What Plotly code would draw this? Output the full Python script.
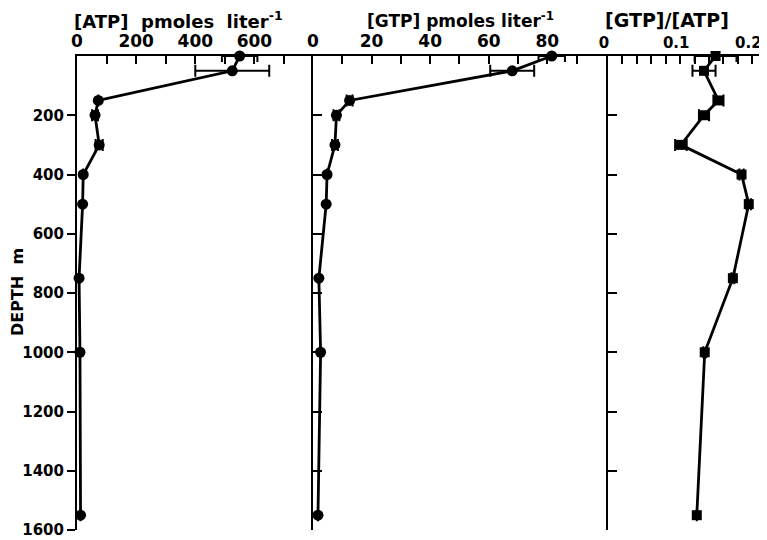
import plotly.graph_objects as go

# ---- data ----
depth_m = [0, 50, 150, 200, 300, 400, 500, 750, 1000, 1550]
atp_pmol = [550, 525, 72, 61, 75, 21, 19, 7, 10, 12]
atp_err = [60, 125, 0, 10, 12, 0, 0, 0, 0, 0]
gtp_pmol = [81.5, 68, 12.5, 8, 7.5, 4.8, 4.5, 2, 2.6, 1.7]
gtp_err = [4.5, 7.5, 1, 1, 1, 0, 0, 0, 0, 0]
ratio = [0.149, 0.133, 0.153, 0.133, 0.101, 0.185, 0.195, 0.173, 0.134, 0.123]
ratio_err = [0.029, 0.016, 0.007, 0.007, 0.008, 0.003, 0.003, 0.002, 0.002, 0.0]

atp_ticks = [0, 100, 200, 300, 400, 500, 600, 700]
atp_labels = ["0", "", "200", "", "400", "", "600", ""]
gtp_ticks = [0, 10, 20, 30, 40, 50, 60, 70, 80, 90]
gtp_labels = ["0", "", "20", "", "40", "", "60", "", "80", ""]
ratio_ticks = [0, 0.02, 0.04, 0.06, 0.08, 0.1, 0.12, 0.14, 0.16, 0.18, 0.2]
ratio_labels = ["0", "", "", "", "", "0.1", "", "", "", "", "0.2"]
depth_ticks = [200, 400, 600, 800, 1000, 1200, 1400, 1600]

FONT = "DejaVu Sans"
BLACK = "black"

fig = go.Figure()

def add_profile(xvals, err, xa, ya, symbol, size):
    fig.add_trace(go.Scatter(
        x=xvals, y=depth_m, xaxis=xa, yaxis=ya,
        mode="lines+markers",
        line=dict(color=BLACK, width=2.8),
        marker=dict(color=BLACK, size=size, symbol=symbol),
        error_x=dict(type="data", array=err, color=BLACK, thickness=2, width=6),
        cliponaxis=False, showlegend=False, hoverinfo="skip",
    ))

add_profile(atp_pmol, atp_err, "x", "y", "circle", 11)
add_profile(gtp_pmol, gtp_err, "x2", "y2", "circle", 11)
add_profile(ratio, ratio_err, "x3", "y3", "square", 10)

# the page body adds an 8px offset; the figure is sized to fit the window
W, H = 759, 532
L, R, T, B = 69, 2, 48, 10
PW = W - L - R
PH = H - T - B
d1 = 236 / PW
d2 = 531 / PW

def xcommon(size):
    return dict(side="top", showline=True, linecolor=BLACK, linewidth=2,
                ticks="inside", ticklen=8, tickwidth=2, tickcolor=BLACK,
                showgrid=False, zeroline=False,
                tickfont=dict(family=FONT, size=size, color=BLACK, weight="bold"))

ycommon = dict(range=[1600, 0], showline=True, linecolor=BLACK, linewidth=2,
               tickwidth=2, tickcolor=BLACK, showgrid=False, zeroline=False,
               tickvals=depth_ticks)

ty = 1 + 36 / PH

fig.update_layout(
    width=W, height=H,
    margin=dict(l=L, r=R, t=T, b=B),
    paper_bgcolor="white", plot_bgcolor="white",
    xaxis=dict(domain=[0, d1], range=[0, 798], anchor="y",
               tickvals=atp_ticks, ticktext=atp_labels, **xcommon(17)),
    xaxis2=dict(domain=[d1, d2], range=[0, 100.7], anchor="y2",
                tickvals=gtp_ticks, ticktext=gtp_labels, **xcommon(17)),
    xaxis3=dict(domain=[d2, 1], range=[0, 0.2175], anchor="y3",
                tickvals=ratio_ticks, ticktext=ratio_labels,
                ticklabelshift=-4, **xcommon(15)),
    yaxis=dict(domain=[0, 1], anchor="x", ticks="outside", ticklen=8,
               showticklabels=True,
               tickfont=dict(family=FONT, size=15, color=BLACK, weight="bold"),
               **ycommon),
    yaxis4=dict(overlaying="y", anchor="x", side="left", ticks="inside",
                ticklen=8, showticklabels=False, **ycommon),
    yaxis2=dict(domain=[0, 1], anchor="x2", ticks="inside", ticklen=9,
                showticklabels=False, **ycommon),
    yaxis3=dict(domain=[0, 1], anchor="x3", ticks="inside", ticklen=9,
                showticklabels=False, **ycommon),
    annotations=[
        dict(text="[ATP]  pmoles  liter<sup>-1</sup>", x=(178 - 77) / PW, y=ty,
             xref="paper", yref="paper", showarrow=False,
             xanchor="center", yanchor="middle",
             font=dict(family=FONT, size=18, color=BLACK, weight="bold")),
        dict(text="[GTP] pmoles liter<sup>-1</sup>", x=(460 - 77) / PW, y=ty,
             xref="paper", yref="paper", showarrow=False,
             xanchor="center", yanchor="middle",
             font=dict(family=FONT, size=17, color=BLACK, weight="bold")),
        dict(text="[GTP]/[ATP]", x=(667 - 77) / PW, y=ty,
             xref="paper", yref="paper", showarrow=False,
             xanchor="center", yanchor="middle",
             font=dict(family=FONT, size=19, color=BLACK, weight="bold")),
        dict(text="DEPTH  m", x=(17 - 77) / PW, y=1 - (292 - 56) / PH,
             textangle=-90, xref="paper", yref="paper", showarrow=False,
             xanchor="center", yanchor="middle",
             font=dict(family=FONT, size=16, color=BLACK, weight="bold")),
    ],
)

fig.write_html("out.html")
